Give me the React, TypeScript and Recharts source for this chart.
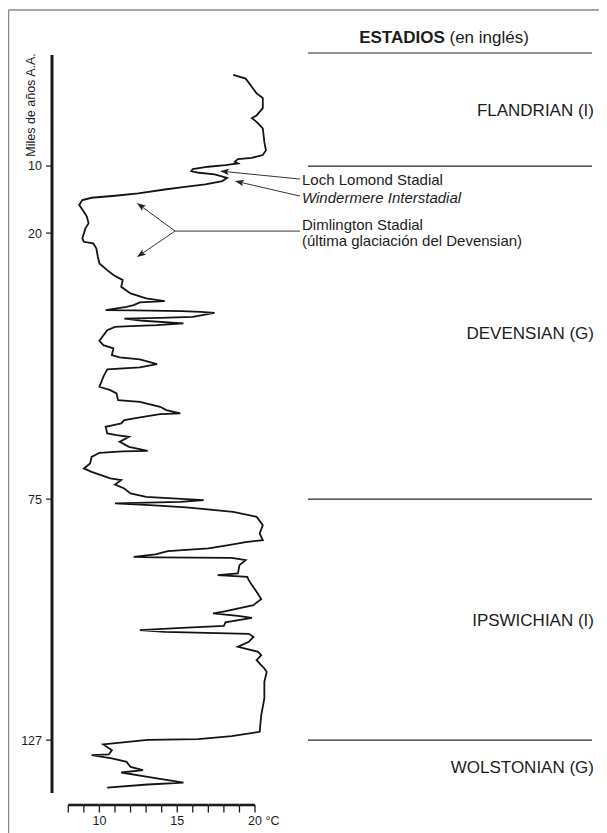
import React from 'react';
import { LineChart, Line, XAxis, YAxis, ReferenceLine, ReferenceDot } from 'recharts';

// ---------- data ----------
const AGES_KA = [
  0.1, 0.5, 1.4, 2.1, 2.6, 3.7, 4.5, 4.8, 5.2, 5.9,
  7.4, 8.3, 8.8, 9.1, 9.24, 9.53, 9.71, 9.89, 10.1, 10.45,
  10.75, 11.0, 11.24, 11.75, 12.24, 12.73, 13.1, 13.5, 14.07, 14.43,
  14.73, 15.07, 15.82, 16.82, 17.57, 18.55, 19.3, 21.1, 21.8, 22.13,
  23.16, 24.9, 26.27, 27.65, 28.68, 29.72, 31.1, 32.47, 33.5, 34.06,
  34.33, 34.89, 35.24, 35.92, 36.0, 36.13, 36.27, 36.48, 37.31, 37.54,
  37.68, 38.13, 38.67, 39.02, 39.23, 39.38, 40.06, 42.27, 43.16, 43.84,
  45.23, 45.7, 46.12, 47.09, 47.77, 48.18, 49.72, 51.78, 52.47, 53.15,
  54.53, 54.88, 55.92, 56.6, 57.28, 57.43, 57.99, 58.67, 59.35, 59.7,
  60.05, 61.42, 61.77, 62.12, 63.16, 64.19, 65.02, 65.12, 65.43, 66.26,
  67.62, 68.66, 69.36, 70.72, 71.08, 71.97, 72.79, 73.83, 74.53, 75.22,
  75.58, 75.93, 76.29, 76.79, 77.74, 78.82, 80.61, 82.4, 83.85, 84.28,
  84.92, 85.64, 86.22, 86.93, 87.45, 87.56, 87.66, 88.16, 89.24, 91.03,
  91.4, 91.76, 92.48, 93.55, 95.0, 96.57, 97.87, 99.31, 99.66, 100.18,
  100.61, 101.6, 102.34, 102.77, 103.26, 103.63, 104.06, 104.71, 105.79, 106.87,
  107.94, 108.66, 109.74, 111.53, 112.26, 114.42, 118.0, 121.6, 125.2, 126.13,
  126.78, 126.95, 127.93, 129.16, 130.09, 130.24, 130.95, 131.69, 132.77, 133.48,
  133.98, 134.93, 136.14, 136.57, 137.22,
];

const TEMPS_C = [
  18.6, 19.4, 19.8, 20.1, 20.5, 20.5, 20.1, 19.8, 20.1, 20.5,
  20.6, 20.7, 20.5, 19.8, 18.9, 18.7, 18.9, 18.1, 17.0, 16.0,
  15.9, 16.4, 17.4, 18.2, 17.9, 16.8, 15.5, 14.2, 12.5, 11.0,
  9.5, 8.9, 8.7, 9.0, 9.2, 9.3, 9.1, 8.9, 9.0, 9.6,
  9.8, 9.9, 10.0, 10.5, 10.9, 11.5, 11.4, 12.0, 13.0, 14.2,
  12.6, 12.2, 11.75, 10.4, 12.2, 15.3, 16.5, 17.4, 16.0, 13.9,
  11.6, 12.8, 15.4, 13.7, 12.0, 11.0, 10.5, 10.0, 10.25, 10.9,
  10.8, 11.3, 12.6, 13.7, 12.6, 10.5, 10.25, 10.0, 10.7, 11.1,
  11.2, 12.6, 13.9, 14.3, 15.2, 13.9, 12.8, 11.6, 11.4, 10.9,
  10.4, 10.5, 11.1, 11.9, 11.3, 11.9, 13.1, 11.5, 10.0, 9.5,
  9.4, 9.0, 9.5, 10.7, 11.4, 11.0, 11.6, 12.0, 13.0, 16.7,
  15.2, 11.0, 13.25, 15.6, 18.6, 20.1, 20.5, 20.3, 20.5, 19.4,
  18.3, 17.0, 14.4, 13.6, 12.2, 13.6, 18.5, 19.4, 19.0, 18.9,
  17.6, 19.5, 19.6, 19.8, 20.1, 20.4, 19.9, 17.9, 17.3, 18.9,
  19.8, 18.1, 18.0, 15.3, 12.6, 14.2, 19.6, 19.9, 19.6, 18.9,
  20.2, 20.4, 20.1, 20.6, 20.75, 20.6, 20.6, 20.4, 20.3, 18.5,
  16.35, 13.1, 10.25, 10.8, 10.6, 9.5, 10.8, 11.75, 12.0, 12.8,
  11.4, 13.1, 15.4, 13.1, 10.5,
];

const AGE_TICKS = [10, 20, 75, 127];
const TEMP_TICKS = [8, 9, 10, 11, 12, 13, 14, 15, 16, 17, 18, 19, 20];
const TEMP_TICK_LABELS = [10, 15, 20];
const TEMP_UNIT = '°C';
const TEMP_DOMAIN = [8, 21];

const STAGE_NAMES = ['FLANDRIAN (I)', 'DEVENSIAN (G)', 'IPSWICHIAN (I)', 'WOLSTONIAN (G)'];
const STAGE_BOUNDARIES_KA = [10, 75, 127];

const AGE_TOP = -2.07;
const AGE_BOTTOM = 138.4;

// annotations: [temp, age] pairs
const ARROWS = [
  { from: [22.89, 11.94], to: [17.75, 10.75], head: true },
  { from: [22.89, 14.48], to: [18.71, 12.24], head: true },
  { from: [22.89, 19.7], to: [14.86, 19.7], head: false },
  { from: [14.86, 19.7], to: [12.41, 15.52], head: true },
  { from: [14.86, 19.7], to: [12.41, 24.96], head: true },
];
const NOTES = [
  { text: 'Loch Lomond Stadial', age: 12.09, italic: false },
  { text: 'Windermere Interstadial', age: 14.78, italic: true },
  { text: 'Dimlington Stadial', age: 18.81, italic: false },
  { text: '(última glaciación del Devensian)', age: 21.65, italic: false },
];

// ---------- non-linear time axis (piecewise) ----------
const SCALE_AGES = [0, 10, 20, 75, 127];
const SCALE_UNITS = [0, 92, 159, 425, 666];
function agePos(a: number): number {
  let i = 0;
  while (i < SCALE_AGES.length - 2 && a > SCALE_AGES[i + 1]) i++;
  const a0 = SCALE_AGES[i], a1 = SCALE_AGES[i + 1];
  const u0 = SCALE_UNITS[i], u1 = SCALE_UNITS[i + 1];
  return u0 + ((a - a0) * (u1 - u0)) / (a1 - a0);
}

const chartData = AGES_KA.map((a, i) => ({ pos: agePos(a), temp: TEMPS_C[i] }));

// ---------- layout ----------
const W = 591;
const H = 825;
const FONT = '"Liberation Sans", Arial, Helvetica, sans-serif';
const INK = '#1c1c1c';
const PLOT_LEFT = 44;
const PLOT_RIGHT = 584;
const PLOT_TOP = 47;
const X_AXIS_H = 40;
const PLOT_BOTTOM = H - X_AXIS_H;
const PX_PER_DEG = 15.56;
const TEMP_PAD_LEFT = 16.3;
const TEMP_PAD_RIGHT =
  PLOT_RIGHT - PLOT_LEFT - TEMP_PAD_LEFT - PX_PER_DEG * (TEMP_DOMAIN[1] - TEMP_DOMAIN[0]);
const PANEL_PAD_LEFT = 256;

const TempTick = (props: any) => {
  const { x, payload } = props;
  const v = payload.value;
  const last = v === TEMP_TICKS[TEMP_TICKS.length - 1];
  const ly = PLOT_BOTTOM + 12;
  const showLabel = TEMP_TICK_LABELS.includes(v);
  return (
    <g>
      {!last && (
        <line x1={x} y1={ly} x2={x + PX_PER_DEG} y2={ly} stroke={INK} strokeWidth={2.6} />
      )}
      <line x1={x} y1={ly} x2={x} y2={ly + 7.5} stroke={INK} strokeWidth={1.3} />
      {showLabel && (
        <text
          x={last ? x - 7 : x}
          y={ly + 19.5}
          textAnchor={last ? 'start' : 'middle'}
          fontSize={12.5}
          fontFamily={FONT}
          fill={INK}
        >
          {last ? `${v} ${TEMP_UNIT}` : v}
        </text>
      )}
    </g>
  );
};

const ageTickFormatter = (v: number) => {
  const i = AGE_TICKS.findIndex((a) => Math.abs(agePos(a) - v) < 1e-6);
  return i >= 0 ? String(AGE_TICKS[i]) : '';
};

const arrowShape = (head: boolean) => (props: any) => {
  const { x1, y1, x2, y2 } = props;
  const dx = x2 - x1, dy = y2 - y1;
  const len = Math.sqrt(dx * dx + dy * dy) || 1;
  const ux = dx / len, uy = dy / len;
  const hl = 9, hw = 3.2;
  const bx = x2 - ux * hl, by = y2 - uy * hl;
  const pts = `${x2},${y2} ${bx - uy * hw},${by + ux * hw} ${bx + ux * 2},${by + uy * 2} ${bx + uy * hw},${by - ux * hw}`;
  return (
    <g>
      <line x1={x1} y1={y1} x2={head ? bx + ux * 3 : x2} y2={head ? by + uy * 3 : y2} stroke="#333" strokeWidth={1} />
      {head && <polygon points={pts} fill="#222" stroke="none" />}
    </g>
  );
};

const stageBounds = [AGE_TOP, ...STAGE_BOUNDARIES_KA, AGE_BOTTOM];

export default function App() {
  return (
    <div style={{ position: 'relative', width: W, height: H, fontFamily: FONT }}>
      <style>{'html,body{overflow:hidden;background:#fff}'}</style>
      <LineChart
        width={W}
        height={H}
        data={chartData}
        layout="vertical"
        margin={{ top: PLOT_TOP, right: W - PLOT_RIGHT, bottom: 0, left: 0 }}
      >
        <YAxis
          type="number"
          dataKey="pos"
          domain={[agePos(AGE_TOP), agePos(AGE_BOTTOM)]}
          allowDataOverflow
          ticks={AGE_TICKS.map(agePos)}
          interval={0}
          tickFormatter={ageTickFormatter}
          width={PLOT_LEFT}
          axisLine={{ stroke: INK, strokeWidth: 3 }}
          tickLine={{ stroke: INK, strokeWidth: 1.2 }}
          tickSize={6}
          tickMargin={4}
          tick={{ fontSize: 12.5, fill: INK, fontFamily: FONT }}
        />
        <XAxis
          xAxisId="temp"
          type="number"
          domain={TEMP_DOMAIN}
          allowDataOverflow
          ticks={TEMP_TICKS}
          interval={0}
          tick={<TempTick />}
          tickLine={false}
          axisLine={false}
          tickSize={0}
          tickMargin={0}
          height={X_AXIS_H}
          padding={{ left: TEMP_PAD_LEFT, right: TEMP_PAD_RIGHT }}
        />
        <XAxis
          xAxisId="panel"
          type="number"
          domain={[0, 1]}
          allowDataOverflow
          hide
          padding={{ left: PANEL_PAD_LEFT, right: 0 }}
        />

        {STAGE_BOUNDARIES_KA.map((a) => (
          <ReferenceLine
            key={`b${a}`}
            xAxisId="panel"
            segment={[{ x: 0, y: agePos(a) }, { x: 1, y: agePos(a) }]}
            stroke="#2a2a2a"
            strokeWidth={1.2}
            ifOverflow="visible"
          />
        ))}

        {STAGE_NAMES.map((name, i) => (
          <ReferenceDot
            key={name}
            xAxisId="panel"
            x={1}
            y={(agePos(stageBounds[i]) + agePos(stageBounds[i + 1])) / 2}
            r={1}
            ifOverflow="visible"
            shape={(p: any) => (
              <text
                x={p.cx + 2}
                y={p.cy}
                dy="0.35em"
                textAnchor="end"
                fontSize={17}
                fontFamily={FONT}
                fill={INK}
              >
                {name}
              </text>
            )}
          />
        ))}

        {ARROWS.map((ar, i) => (
          <ReferenceLine
            key={`a${i}`}
            xAxisId="temp"
            segment={[
              { x: ar.from[0], y: agePos(ar.from[1]) },
              { x: ar.to[0], y: agePos(ar.to[1]) },
            ]}
            ifOverflow="visible"
            shape={arrowShape(ar.head)}
          />
        ))}

        {NOTES.map((n) => (
          <ReferenceDot
            key={n.text}
            xAxisId="panel"
            x={0}
            y={agePos(n.age)}
            r={1}
            ifOverflow="visible"
            shape={(p: any) => (
              <text
                x={p.cx - 6}
                y={p.cy}
                dy="0.35em"
                textAnchor="start"
                fontSize={15}
                fontStyle={n.italic ? 'italic' : 'normal'}
                fontFamily={FONT}
                fill={INK}
              >
                {n.text}
              </text>
            )}
          />
        ))}

        <Line
          xAxisId="temp"
          dataKey="temp"
          type="linear"
          stroke="#141414"
          strokeWidth={1.8}
          dot={false}
          activeDot={false}
          isAnimationActive={false}
        />
      </LineChart>

      <svg
        width={W}
        height={H}
        style={{ position: 'absolute', left: 0, top: 0, pointerEvents: 'none', overflow: 'visible' }}
      >
        <line x1={0.5} y1={2} x2={W + 8} y2={2} stroke="#888" strokeWidth={1.5} />
        <line x1={0.5} y1={2} x2={0.5} y2={H + 8} stroke="#888" strokeWidth={1.5} />
        <text x={436} y={35} textAnchor="middle" fontSize={17} fontFamily={FONT} fill={INK}>
          <tspan fontWeight="bold">ESTADIOS</tspan>
          <tspan> (en inglés)</tspan>
        </text>
        <line x1={300} y1={45} x2={PLOT_RIGHT} y2={45} stroke="#2a2a2a" strokeWidth={1.2} />
        <text
          transform="translate(22.5,97) rotate(-90)"
          textAnchor="middle"
          dy="0.35em"
          fontSize={12.5}
          fontFamily={FONT}
          fill={INK}
        >
          Miles de años A.A.
        </text>
      </svg>
    </div>
  );
}
